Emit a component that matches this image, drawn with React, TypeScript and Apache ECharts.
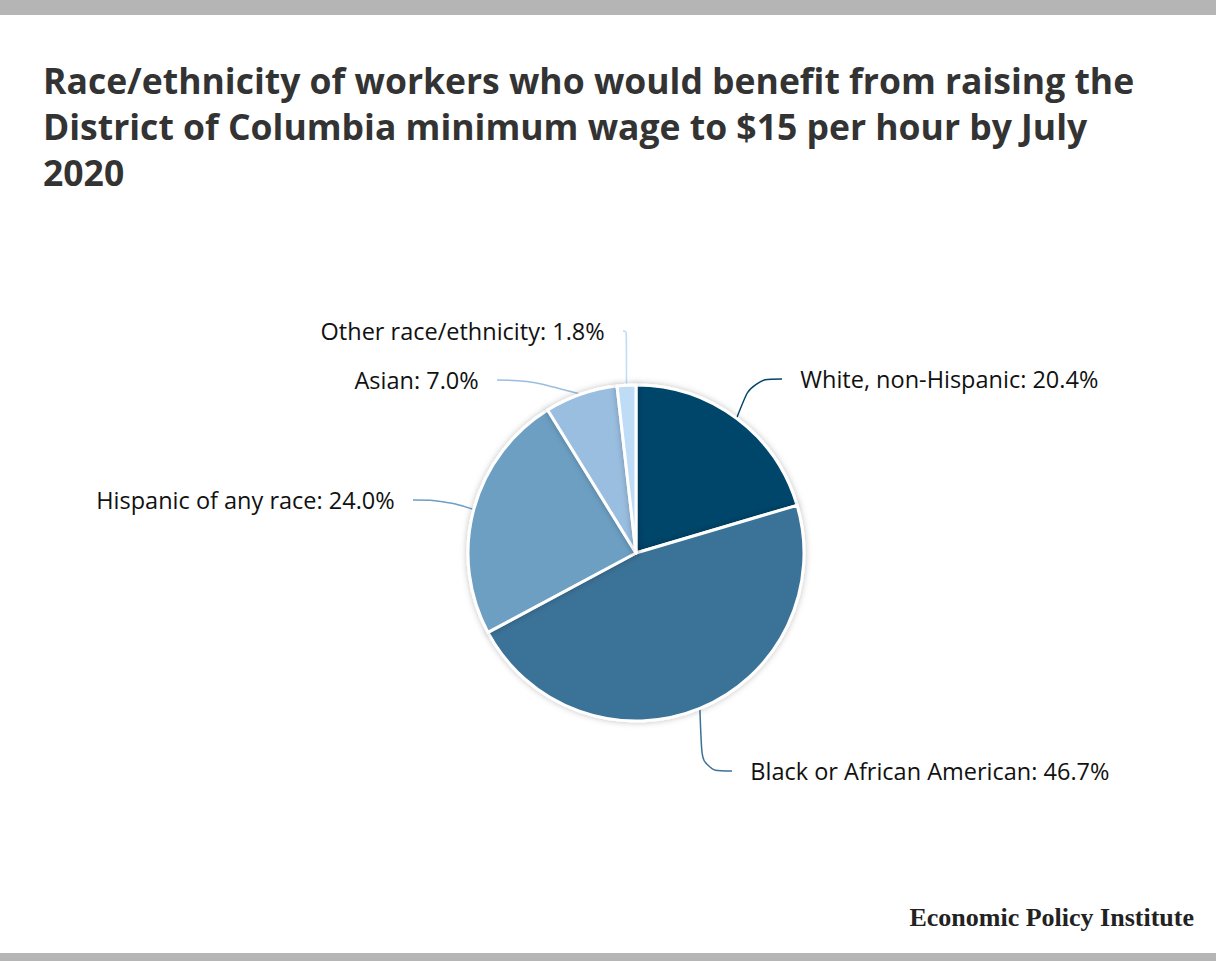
import React, { useEffect, useRef } from "react";
import * as echarts from "echarts";

const categories = [
  "White, non-Hispanic",
  "Black or African American",
  "Hispanic of any race",
  "Asian",
  "Other race/ethnicity",
];
const shares = [20.4, 46.7, 24.0, 7.0, 1.8];
const colors = ["#03446a", "#3b7297", "#6c9fc2", "#9abee0", "#bfdcf6"];

// label anchor points (layout only)
const labelPos = [
  { x: 782, y: 379, align: "left" },
  { x: 732, y: 771, align: "left" },
  { x: 413, y: 500, align: "right" },
  { x: 497, y: 380, align: "right" },
  { x: 623, y: 331, align: "right" },
];

const App: React.FC = () => {
  const chartRef = useRef<HTMLDivElement>(null);

  useEffect(() => {
    if (!chartRef.current) return;
    const chart = echarts.init(chartRef.current, undefined, { renderer: "svg" });

    chart.setOption({
      animation: false,
      backgroundColor: "#ffffff",
      title: {
        text: "Race/ethnicity of workers who would benefit from raising the\nDistrict of Columbia minimum wage to $15 per hour by July\n2020",
        left: 38,
        top: 52,
        textStyle: {
          fontFamily: "Open Sans",
          fontWeight: "bold",
          fontSize: 35.5,
          lineHeight: 46,
          color: "#333333",
        },
      },
      graphic: [
        { type: "rect", left: 0, top: 0, shape: { width: 1216, height: 15 }, style: { fill: "#b5b5b5" } },
        { type: "rect", left: 0, top: 953, shape: { width: 1216, height: 8 }, style: { fill: "#b5b5b5" } },
        {
          type: "text",
          right: 22,
          top: 904,
          style: {
            text: "Economic Policy Institute",
            font: "bold 26px 'Liberation Serif'",
            fill: "#222222",
          },
        },
      ],
      series: [
        {
          type: "pie",
          center: [636, 553],
          radius: [0, 168],
          startAngle: 90,
          clockwise: true,
          itemStyle: {
            borderColor: "#ffffff",
            borderWidth: 3,
            shadowBlur: 6,
            shadowColor: "rgba(0,0,0,0.25)",
          },
          label: {
            show: true,
            position: "outside",
            fontFamily: "Open Sans",
            fontSize: 23.5,
            color: "#111111",
            formatter: (p: any) => {
              const t = `${p.name}: ${p.value.toFixed(1)}%`;
              return labelPos[p.dataIndex].align === "left" ? `   ${t}` : `${t}   `;
            },
          },
          labelLine: { show: true, smooth: 0.4, lineStyle: { width: 1.5 } },
          labelLayout: (params: any) => {
            const pos = labelPos[params.dataIndex];
            return { x: pos.x, y: pos.y, align: pos.align, verticalAlign: "middle" };
          },
          data: categories.map((name, i) => ({
            name,
            value: shares[i],
            itemStyle: { color: colors[i] },
            labelLine: { lineStyle: { color: colors[i] } },
          })),
        },
      ],
    });

    return () => {
      chart.dispose();
    };
  }, []);

  return (
    <div
      ref={chartRef}
      style={{ position: "fixed", left: 0, top: 0, width: 1216, height: 961 }}
    />
  );
};

export default App;
